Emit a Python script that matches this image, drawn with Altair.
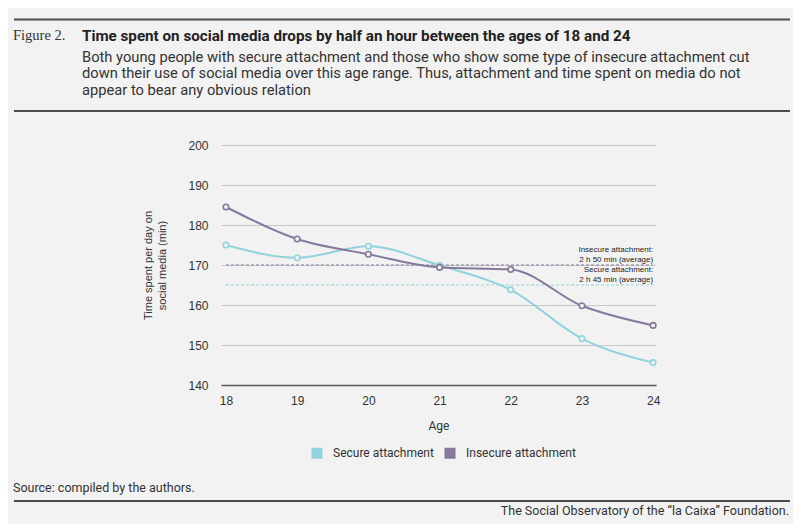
import altair as alt
import pandas as pd

# ---------------- data ----------------
ages = [18, 19, 20, 21, 22, 23, 24]
secure = [175.0, 171.8, 174.7, 169.9, 163.8, 151.6, 145.6]
insecure = [184.5, 176.5, 172.7, 169.4, 168.9, 159.8, 154.9]
series_names = ["Secure attachment", "Insecure attachment"]
series_colors = ["#93d3dd", "#86799b"]
avg_values = [165, 170]
avg_label_top = ["Secure attachment:", "Insecure attachment:"]
avg_label_bottom = ["2 h 45 min (average)", "2 h 50 min (average)"]
y_ticks = [140, 150, 160, 170, 180, 190, 200]

fig_label = "Figure 2."
title_text = "Time spent on social media drops by half an hour between the ages of 18 and 24"
subtitle_lines = [
    "Both young people with secure attachment and those who show some type of insecure attachment cut",
    "down their use of social media over this age range. Thus, attachment and time spent on media do not",
    "appear to bear any obvious relation",
]
source_text = "Source: compiled by the authors."
footer_text = "The Social Observatory of the \u201cla Caixa\u201d Foundation."
y_title = ["Time spent per day on", "social media (min)"]
x_title = "Age"

# ---------------- tables ----------------
rows = []
for a, s, i in zip(ages, secure, insecure):
    rows.append({"age": a, "value": s, "series": series_names[0]})
    rows.append({"age": a, "value": i, "series": series_names[1]})
df = pd.DataFrame(rows)

avg_df = pd.DataFrame({
    "series": series_names,
    "avg": avg_values,
    "x1": [min(ages)] * 2,
    "x2": [max(ages)] * 2,
    "top": avg_label_top,
    "bottom": avg_label_bottom,
})

# ---------------- layout helpers ----------------
OX, OY = 221, 145          # page coords of plot origin
W, H = 435, 240
PAD_L, PAD_T = OX - 8, OY - 8
PAD_R = 785 - PAD_L - W
PAD_B = 516 - PAD_T - H


def px(x):
    return x - OX


def py(y):
    return y - OY


xscale = alt.Scale(domain=[17.93, 24.04], nice=False, zero=False)
yscale = alt.Scale(domain=[140, 200], nice=False, zero=False)
cscale = alt.Scale(domain=series_names, range=series_colors)

x_axis = alt.Axis(values=ages, format="d", grid=False, ticks=False,
                  domain=True, domainColor="#5a5a5a", domainWidth=1.3,
                  labelPadding=10, title=x_title, titlePadding=14,
                  titleFont="Roboto", titleFontSize=12,
                  titleFontWeight="normal", titleColor="#333333")
y_axis = alt.Axis(values=y_ticks, grid=True, gridColor="#c8c8c8",
                  gridWidth=1, ticks=False, domain=False, labelPadding=13,
                  labelOverlap=False,
                  title=y_title, titlePadding=20, titleFontSize=11,
                  titleFont="Liberation Sans", titleFontWeight="normal",
                  titleColor="#333333", titleLineHeight=14)
legend = alt.Legend(orient="none", legendX=90, legendY=302,
                    direction="horizontal", title=None,
                    symbolType="square", symbolSize=25,
                    symbolStrokeWidth=6, symbolOpacity=1,
                    labelFont="Roboto", labelFontSize=12,
                    labelColor="#333333", labelOffset=10,
                    columnPadding=1)

color = alt.Color("series:N", scale=cscale, sort=series_names, legend=legend)

avg_rules = alt.Chart(avg_df).mark_rule(strokeDash=[3, 2], strokeWidth=1).encode(
    x=alt.X("x1:Q", scale=xscale, axis=x_axis),
    x2="x2:Q",
    y=alt.Y("avg:Q", scale=yscale, axis=y_axis),
    color=color,
)

lines = alt.Chart(df).mark_line(interpolate="monotone", strokeWidth=2).encode(
    x=alt.X("age:Q", scale=xscale, axis=x_axis),
    y=alt.Y("value:Q", scale=yscale, axis=y_axis),
    color=color,
)

points = alt.Chart(df).mark_point(shape="circle", filled=False, fill="#f2f2f2",
                                  size=30, strokeWidth=1.6, opacity=1).encode(
    x=alt.X("age:Q", scale=xscale, axis=x_axis),
    y=alt.Y("value:Q", scale=yscale, axis=y_axis),
    color=color,
)

ann_top = alt.Chart(avg_df).mark_text(align="right", baseline="middle", dy=-15.5,
                                      fontSize=8, font="Liberation Sans",
                                      color="#222222").encode(
    x=alt.X("x2:Q", scale=xscale, axis=x_axis),
    y=alt.Y("avg:Q", scale=yscale, axis=y_axis), text="top:N")
ann_bot = alt.Chart(avg_df).mark_text(align="right", baseline="middle", dy=-5.5,
                                      fontSize=8, font="Liberation Sans",
                                      color="#222222").encode(
    x=alt.X("x2:Q", scale=xscale, axis=x_axis),
    y=alt.Y("avg:Q", scale=yscale, axis=y_axis), text="bottom:N")


def text_at(t, x, y, **kw):
    return alt.Chart(pd.DataFrame({"t": [t]})).mark_text(**kw).encode(
        x=alt.value(px(x)), y=alt.value(py(y)), text="t:N")


def hrule(y, x1=14, x2=790):
    return alt.Chart(pd.DataFrame({"a": [0]})).mark_rule(
        color="#4d4d4d", strokeWidth=2).encode(
        x=alt.value(px(x1)), x2=alt.value(px(x2)), y=alt.value(py(y)))


header = [
    hrule(19.5),
    hrule(111),
    hrule(501),
    text_at(fig_label, 13, 36, align="left", baseline="middle",
            font="Liberation Serif", fontSize=14.5, color="#333333"),
    text_at(title_text, 82, 36, align="left", baseline="middle",
            font="Roboto", fontSize=15.2, fontWeight="bold", color="#222222"),
    text_at(subtitle_lines[0], 82, 57.5, align="left", baseline="middle",
            font="Roboto", fontSize=14.7, color="#333333"),
    text_at(subtitle_lines[1], 82, 74.2, align="left", baseline="middle",
            font="Roboto", fontSize=14.7, color="#333333"),
    text_at(subtitle_lines[2], 82, 91, align="left", baseline="middle",
            font="Roboto", fontSize=14.7, color="#333333"),
    text_at(source_text, 13, 488, align="left", baseline="middle",
            font="Roboto", fontSize=12.5, color="#333333"),
    text_at(footer_text, 789, 511, align="right", baseline="middle",
            font="Roboto", fontSize=12.5, color="#333333"),
]

chart = alt.layer(avg_rules, lines, points, ann_top, ann_bot, *header).properties(
    width=W, height=H,
    autosize=alt.AutoSizeParams(type="none"),
    padding={"left": PAD_L, "top": PAD_T, "right": PAD_R, "bottom": PAD_B},
    background="#f2f2f2",
).configure_view(stroke=None).configure_axis(
    labelFont="Liberation Sans", labelFontSize=12, labelColor="#333333",
)

chart.save("out.html", embed_options={"renderer": "svg", "actions": False})
